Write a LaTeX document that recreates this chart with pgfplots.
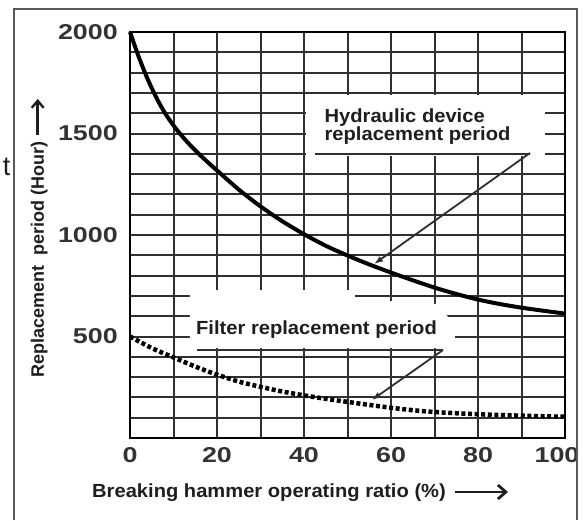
\documentclass[border=0pt]{standalone}
\usepackage{fontspec}
\usepackage{pgfplots}
\pgfplotsset{compat=1.18}
\usetikzlibrary{arrows.meta}
\newfontfamily\annfont[FakeStretch=1.06]{Liberation Sans}
\newfontfamily\tickfont[FakeStretch=1.25]{Liberation Sans}
\newfontfamily\plainfont{Liberation Sans}
\definecolor{gridc}{HTML}{303030}
\definecolor{txt}{HTML}{1E1E1E}
\begin{document}
\begin{tikzpicture}[x=1pt,y=1pt]
\path[use as bounding box] (-130,-82) rectangle (455,438);
\begin{axis}[
  at={(0,0)}, anchor=south west,
  scale only axis, width=435pt, height=406pt,
  xmin=0, xmax=100, ymin=0, ymax=2000,
  xtick={0,20,40,60,80,100},
  xticklabels={0,20,40,60,80,\hspace*{-16pt}100},
  minor xtick={10,30,50,70,90},
  ytick={500,1000,1500,2000},
  yticklabels={500,1000,1500,2000},
  minor ytick={100,200,...,1900},
  grid=both,
  major grid style={gridc, line width=2pt},
  minor grid style={gridc, line width=2pt},
  axis line style={black, line width=2.2pt},
  major tick length=0pt, minor tick length=0pt,
  tick style={draw=none},
  xticklabel style={font=\tickfont\bfseries\fontsize{21.5}{21.5}\selectfont, text=black!80, inner sep=0pt, yshift=-9pt},
  yticklabel style={font=\tickfont\bfseries\fontsize{21.5}{21.5}\selectfont, text=black!80, inner sep=0pt, xshift=-12pt},
  clip=false,
]
% erased grid behind the labels
\fill[white] (axis cs:40.5,1390) rectangle (axis cs:95.4,1690);
\draw[gridc, line width=2pt] (axis cs:42.5,1400) -- (axis cs:92,1400);
\fill[white] (axis cs:13.79,729) -- (axis cs:51.72,729) -- (axis cs:51.72,684.7) -- (axis cs:70.57,660) -- (axis cs:74.71,556.7) -- (axis cs:74.71,443.3) -- (axis cs:13.79,443.3) -- cycle;
\draw[gridc, line width=2pt] (axis cs:15.4,433.5) -- (axis cs:72,433.5);

% Hydraulic device replacement period
\addplot[black, line width=4pt, smooth] coordinates {
 (0,2000) (2,1878) (4,1771) (6,1679) (8,1602) (10,1540) (12,1486) (14,1439)
 (16,1396) (18,1356) (20,1318) (25,1224) (30,1141) (35,1068) (40,1004)
 (45,947) (50,899) (55,855) (60,815) (65,777) (70,741) (75,709.5) (80,682)
 (85,660) (90,642) (95,627) (100,613)
};
% Filter replacement period
\addplot[black, line width=4.5pt, dash pattern=on 4pt off 2.6pt, smooth] coordinates {
 (0,500) (5,443) (10,397) (15,352) (20,312) (25,278) (30,252) (35,229) (40,210)
 (45,193) (50,178) (55,163) (60,149) (65,137) (70,128) (75,122) (80,117) (85,113)
 (90,110) (95,107) (100,105)
};

\draw[black!82, line width=1.8pt, -{Latex[length=9pt,width=6.5pt]}] (axis cs:91.95,1404) -- (axis cs:56.1,857);
\draw[black!82, line width=1.8pt, -{Latex[length=9pt,width=6.5pt]}] (axis cs:71.95,433.5) -- (axis cs:55.6,187);

\node[anchor=base west, inner sep=0pt, font=\annfont\bfseries\fontsize{19}{19}\selectfont, text=txt] at (axis cs:44.7,1554) {Hydraulic device};
\node[anchor=base west, inner sep=0pt, font=\annfont\bfseries\fontsize{19}{19}\selectfont, text=txt] at (axis cs:44.7,1465.5) {replacement period};
\node[anchor=base west, inner sep=0pt, font=\annfont\bfseries\fontsize{19}{19}\selectfont, text=txt] at (axis cs:15.17,509.9) {Filter replacement period};
\end{axis}

\draw[black!65, line width=1.5pt] (-116,-82) -- (-116,429) -- (447,429) -- (447,-82);
\node[anchor=base west, inner sep=0pt, font=\annfont\bfseries\fontsize{19}{19}\selectfont, text=txt] at (-38,-59) {Breaking hammer operating ratio (\%)};
\draw[txt, line width=2.8pt, -{Straight Barb[length=8pt,width=14pt]}] (325,-54) -- (378,-54);
\node[rotate=90, anchor=base west, inner sep=0pt, font=\plainfont\bfseries\fontsize{18}{18}\selectfont, text=txt] at (-86,60) {Replacement\ \ period (Hour)};
\draw[txt, line width=2.4pt, -{Straight Barb[length=7pt,width=12pt]}] (-92.3,303) -- (-92.3,339);
\node[anchor=base east, inner sep=0pt, font=\plainfont\fontsize{27}{27}\selectfont, text=txt] at (-119.5,263) {t};
\end{tikzpicture}
\end{document}
